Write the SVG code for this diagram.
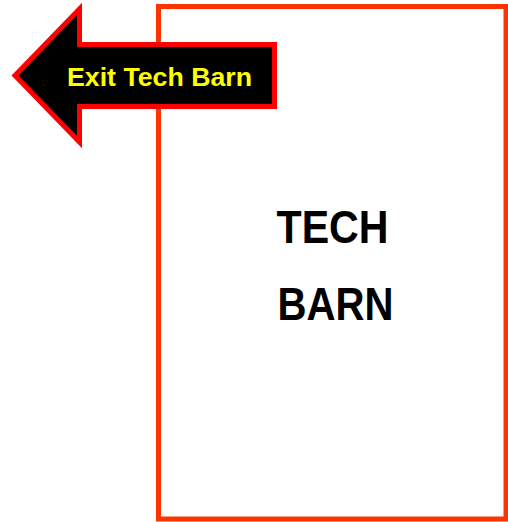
<svg xmlns="http://www.w3.org/2000/svg" width="508" height="522" viewBox="0 0 508 522">
<style>
.lbl{font-family:"Liberation Sans",Arial,sans-serif;font-weight:bold}
</style>
<rect width="508" height="522" fill="#fff"/>
<g id="tech-barn">
<rect x="158.5" y="6.5" width="347.5" height="512.5" fill="#fff" stroke="#FF3300" stroke-width="5"/>
<text class="lbl" x="332.5" y="243" font-size="47" text-anchor="middle" textLength="112" lengthAdjust="spacingAndGlyphs" fill="#000">TECH</text>
<text class="lbl" x="335.5" y="320" font-size="47" text-anchor="middle" textLength="116" lengthAdjust="spacingAndGlyphs" fill="#000">BARN</text>
</g>
<g id="exit-arrow">
<polygon points="15,75.5 79.5,9 79.5,44.5 274.5,44.5 274.5,106.5 79.5,106.5 79.5,142" fill="#000" stroke="#FF0000" stroke-width="5" stroke-linejoin="miter"/>
<text class="lbl" x="67" y="86" font-size="26" textLength="185" lengthAdjust="spacingAndGlyphs" fill="#FFFF00">Exit Tech Barn</text>
</g>
<g id="connectors"/>
</svg>
